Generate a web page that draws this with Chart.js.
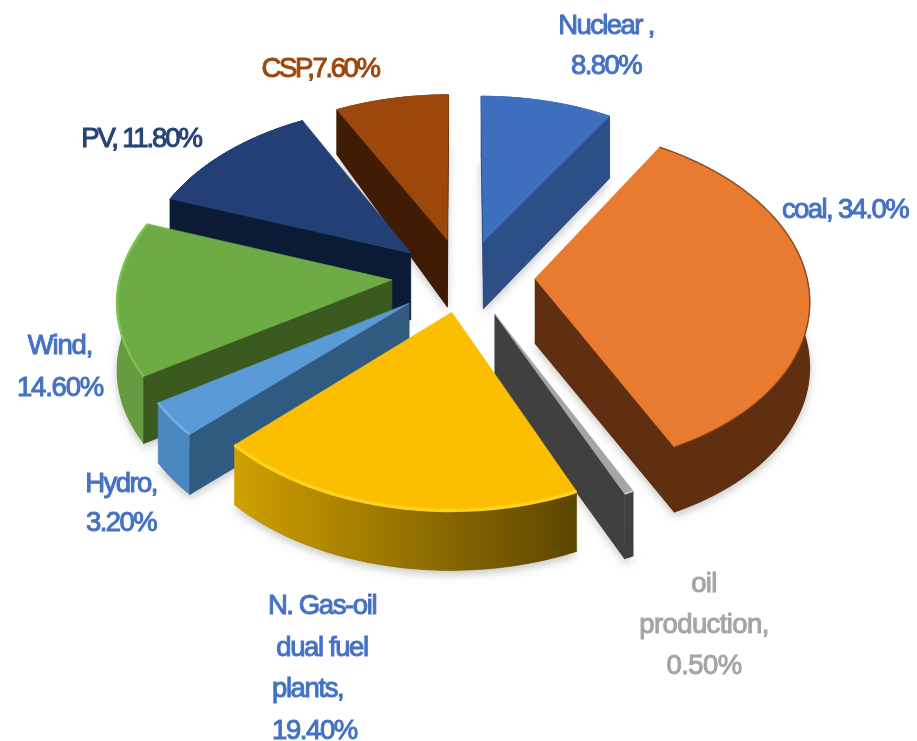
<!DOCTYPE html>
<html lang="en">

<head>
    <meta charset="UTF-8">
    <title>Generation mix</title>
    <script src="https://cdn.jsdelivr.net/npm/chart.js"></script>
    <style>
        html, body { margin: 0; padding: 0; background: #fff; }
        #wrap { width: 917px; height: 741px; filter: blur(0.5px); }
    </style>
</head>

<body>

    <div id="wrap"><canvas id="myChart"></canvas></div>

    <script>

        const categories = ['Nuclear', 'coal', 'oil production', 'N. Gas-oil dual fuel plants', 'Hydro', 'Wind', 'PV', 'CSP'];
        const shares = [8.8, 34.0, 0.5, 19.4, 3.2, 14.6, 11.8, 7.6];
        const labelLines = [
            ['Nuclear ,', '8.80%'],
            ['coal, 34.0%'],
            ['oil', 'production,', '0.50%'],
            ['N. Gas-oil', 'dual fuel', 'plants,', '19.40%'],
            ['Hydro,', '3.20%'],
            ['Wind,', '14.60%'],
            ['PV, 11.80%'],
            ['CSP,7.60%']
        ];

        // styling per slice
        const topColors = ['#3E6FBF', '#E97B30', '#A5A5A5', '#FBBE00', '#5A9AD6', '#6DAB45', '#224075', '#9C470C'];
        const radialColors = ['#2D4F88', '#5F2F10', '#404040', '#8A6800', '#305A80', '#3A5A20', '#0B1B35', '#3F1C03'];
        const wallLeft = ['#2D4F88', '#5F2F10', '#404040', '#CFA000', '#4A88C0', '#659C42', '#0B1B35', '#3F1C03'];
        const wallRight = ['#2D4F88', '#5F2F10', '#404040', '#5C4500', '#4A88C0', '#659C42', '#0B1B35', '#3F1C03'];
        const rimColors = ['#3E6FBF', 'rgba(95,47,16,0.6)', '#C8C8C8', '#FFD21F', '#6FB0EA', '#7CC152', '#224075', '#9C470C'];
        const rimWidths = [1, 1.5, 2, 3.5, 2.5, 2.5, 1, 1];
        const shiftX = [24, 75, 34, -8, -50, -68, -50, -13];
        const shiftY = [-60, 1, 57, 54, 40, 3, -41, -63];
        const wallBack = [62, 62, 62, 62, 62, 62, 60, 45];
        const wallFront = [67, 65, 65, 60, 60, 67, 67, 67];
        const drawOrder = [7, 0, 6, 1, 5, 4, 2, 3];

        // label placement: centre x, first baseline y, line step
        const labelColors = ['#4472C4', '#4472C4', '#A5A5A5', '#4472C4', '#4472C4', '#4472C4', '#264478', '#9E480E'];
        const labelPlaces = [
            [606, 34, 40], [845, 218, 40], [704, 592, 41], [322, 614, 41.5],
            [121, 492, 39], [60, 354, 42], [141, 147, 40], [320, 77, 40]
        ];
        const labelSpacing = [-1.6, -1.6, -0.6, -1.4, -1.6, -1.2, -2.1, -2.4];

        const tilt = 0.62;
        const persp = 0.0004;

        function project(arc, px, py) {
            const s = 1 / (1 - persp * py);
            return [arc.x + px * s, arc.y + py * tilt * s];
        }

        function drop(p, i) {
            // wall height shrinks a little toward the back of the pie
            const t = Math.max(0, Math.min(1, (p[1] - 110) / 125));
            return [p[0], p[1] + wallBack[i] + (wallFront[i] - wallBack[i]) * t];
        }

        function poly(ctx, pts) {
            ctx.beginPath();
            pts.forEach((p, i) => i ? ctx.lineTo(p[0], p[1]) : ctx.moveTo(p[0], p[1]));
            ctx.closePath();
        }

        function fillPoly(ctx, pts, color) {
            poly(ctx, pts);
            ctx.fillStyle = color;
            ctx.strokeStyle = color;
            ctx.lineWidth = 0.6;
            ctx.fill();
            ctx.stroke();
        }

        // a cut face only shows when going down leaves the top face
        function faceShows(tip, end, inner) {
            const ex = end[0] - tip[0];
            const ey = end[1] - tip[1];
            const innerSide = ex * (inner[1] - tip[1]) - ey * (inner[0] - tip[0]);
            return ex * innerSide < 0;
        }

        const pie3d = {
            id: 'pie3d',
            beforeDatasetsDraw(chart) {
                const ctx = chart.ctx;
                const arcs = chart.getDatasetMeta(0).data;
                ctx.save();
                ctx.lineJoin = 'round';
                drawOrder.forEach(i => {
                    const arc = arcs[i];
                    const ox = shiftX[i];
                    const oy = shiftY[i];
                    const tip = project(arc, ox, oy);
                    const rim = [];
                    const n = Math.max(4, Math.ceil((arc.endAngle - arc.startAngle) * 30));
                    for (let k = 0; k <= n; k++) {
                        const a = arc.startAngle + (arc.endAngle - arc.startAngle) * k / n;
                        rim.push(project(arc, ox + Math.cos(a) * arc.outerRadius, oy + Math.sin(a) * arc.outerRadius));
                    }
                    const last = rim[rim.length - 1];
                    const inner = rim[Math.floor(n / 2)];
                    const low = rim.map(p => drop(p, i));

                    // soft shadow under the slice
                    ctx.save();
                    ctx.shadowColor = 'rgba(0,0,0,0.22)';
                    ctx.shadowBlur = 9;
                    ctx.shadowOffsetY = 4;
                    poly(ctx, [drop(tip, i), ...low]);
                    ctx.fillStyle = radialColors[i];
                    ctx.fill();
                    ctx.restore();

                    // outer wall
                    const xs = rim.map(p => p[0]);
                    const grad = ctx.createLinearGradient(Math.min(...xs), 0, Math.max(...xs), 0);
                    grad.addColorStop(0, wallLeft[i]);
                    grad.addColorStop(1, wallRight[i]);
                    fillPoly(ctx, [...rim, ...low.slice().reverse()], grad);

                    // cut faces
                    if (faceShows(tip, rim[0], inner)) {
                        fillPoly(ctx, [tip, rim[0], low[0], drop(tip, i)], radialColors[i]);
                    }
                    if (faceShows(tip, last, inner)) {
                        fillPoly(ctx, [tip, last, low[n], drop(tip, i)], radialColors[i]);
                    }

                    // top face with a lit rim
                    fillPoly(ctx, [tip, ...rim], topColors[i]);
                    ctx.beginPath();
                    rim.forEach((p, k) => k ? ctx.lineTo(p[0], p[1]) : ctx.moveTo(p[0], p[1]));
                    ctx.strokeStyle = rimColors[i];
                    ctx.lineWidth = rimWidths[i];
                    ctx.stroke();
                });
                ctx.restore();
                return false;
            },
            afterDraw(chart) {
                const ctx = chart.ctx;
                ctx.save();
                ctx.font = '27.5px "Liberation Sans"';
                ctx.lineWidth = 1;
                labelLines.forEach((lines, i) => {
                    const [x, y, step] = labelPlaces[i];
                    ctx.letterSpacing = labelSpacing[i] + 'px';
                    ctx.fillStyle = labelColors[i];
                    ctx.strokeStyle = labelColors[i];
                    lines.forEach((line, k) => {
                        let lx = x;
                        // the last two lines of the gas label sit flush left
                        if (i === 3 && k >= 2) {
                            ctx.textAlign = 'left';
                            lx = 272;
                        } else {
                            ctx.textAlign = 'center';
                        }
                        ctx.fillText(line, lx, y + k * step);
                        ctx.strokeText(line, lx, y + k * step);
                    });
                });
                ctx.restore();
            }
        };

        new Chart(document.getElementById('myChart').getContext('2d'), {
            type: 'pie',
            data: {
                labels: categories,
                datasets: [{
                    data: shares,
                    backgroundColor: topColors,
                    radius: 272,
                    borderWidth: 0
                }]
            },
            options: {
                responsive: true,
                maintainAspectRatio: false,
                animation: false,
                layout: { padding: { left: 3, bottom: 185 } },
                plugins: {
                    legend: { display: false },
                    tooltip: { enabled: false }
                }
            },
            plugins: [pie3d]
        });

    </script>

</body>

</html>
